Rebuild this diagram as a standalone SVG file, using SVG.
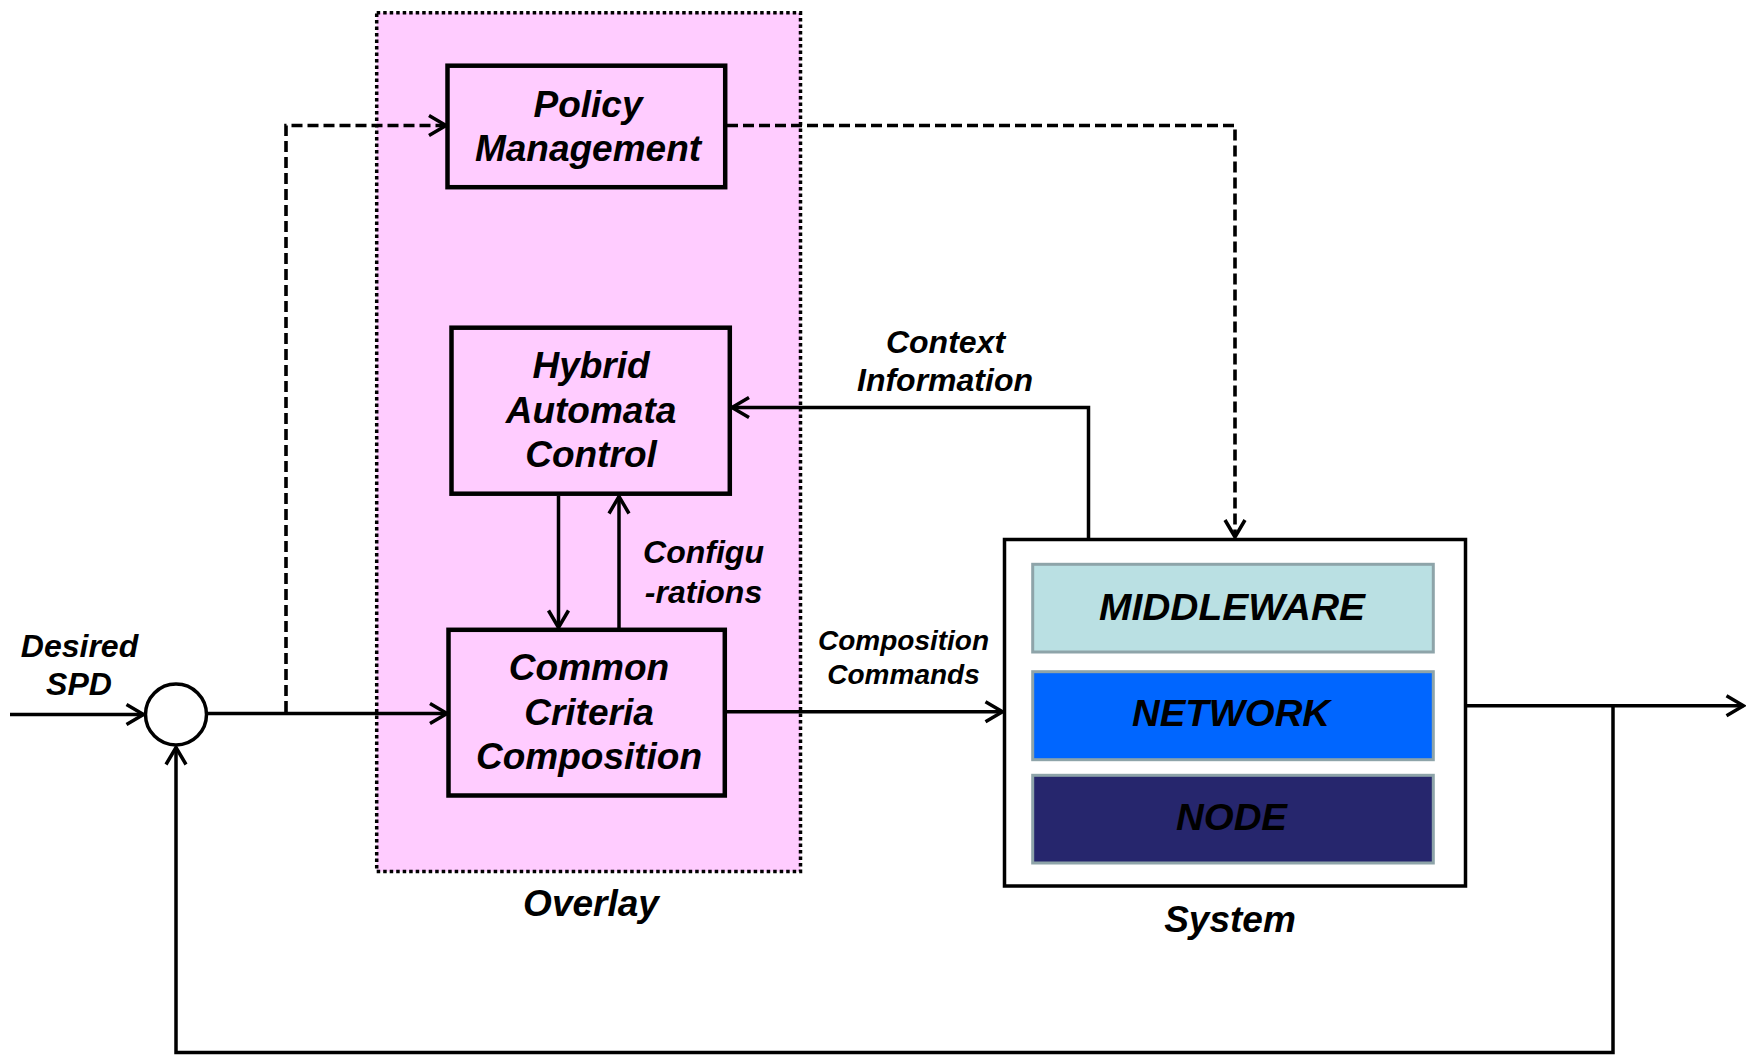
<svg xmlns="http://www.w3.org/2000/svg" width="1746" height="1055" viewBox="0 0 1746 1055">
  <style>
    .lbl { font-family: "Liberation Sans", Arial, sans-serif; font-weight: bold; font-style: italic; fill: #000; text-anchor: middle; }
    .f37 { font-size: 37px; }
    .f32 { font-size: 32px; }
    .f28 { font-size: 28px; }
    .f35 { font-size: 36px; }
    .box { fill: #ffccff; stroke: #000; stroke-width: 4.5; }
    .wire { fill: none; stroke: #000; stroke-width: 3.5; }
    .dash { fill: none; stroke: #000; stroke-width: 3.6; stroke-dasharray: 11 5; }
    .layer { stroke: #8ea4a9; stroke-width: 3; }
  </style>
  <defs>
    <marker id="arrow" markerUnits="userSpaceOnUse" markerWidth="24" markerHeight="26" viewBox="-20 -13 24 26" refX="0" refY="0" orient="auto">
      <path d="M-17,-10 L0,0 L-17,10" fill="none" stroke="#000" stroke-width="3.5" stroke-linejoin="miter"/>
    </marker>
  </defs>

  <rect width="1746" height="1055" fill="#fff"/>

  <!-- overlay container -->
  <g id="overlay">
    <rect x="376.7" y="12.7" width="423.8" height="858.9" fill="#ffccff" stroke="#000" stroke-width="3.5" stroke-dasharray="3.5 3"/>
    <text class="lbl f37" x="591" y="916">Overlay</text>
  </g>

  <!-- connectors -->
  <g id="connectors">
    <path class="wire" d="M10,714.5 H143.5" marker-end="url(#arrow)"/>
    <path class="wire" d="M206.5,713.5 H447" marker-end="url(#arrow)"/>
    <path class="dash" d="M286,712 V125.5 H446" marker-end="url(#arrow)"/>
    <path class="dash" d="M727,125.5 H1235 V537" marker-end="url(#arrow)"/>
    <path class="wire" d="M558.5,496 V627.5" marker-end="url(#arrow)"/>
    <path class="wire" d="M619,628 V496.5" marker-end="url(#arrow)"/>
    <path class="wire" d="M1088.5,539.5 V407.5 H732" marker-end="url(#arrow)"/>
    <path class="wire" d="M727,711.7 H1002.5" marker-end="url(#arrow)"/>
    <path class="wire" d="M1466,705.7 H1743.5" marker-end="url(#arrow)"/>
    <path class="wire" d="M1613,705.7 V1052.5 H176 V747.5" marker-end="url(#arrow)"/>
  </g>

  <!-- summing junction -->
  <g id="junction">
    <circle cx="176" cy="714.5" r="30.5" fill="#fff" stroke="#000" stroke-width="3.5"/>
  </g>

  <g id="policy-management">
    <rect class="box" x="447.5" y="65.7" width="277.7" height="121.5"/>
    <text class="lbl f37" x="588" y="116.7">Policy</text>
    <text class="lbl f37" x="588" y="161">Management</text>
  </g>

  <g id="hybrid-automata-control">
    <rect class="box" x="451.5" y="327.7" width="278.3" height="166"/>
    <text class="lbl f37" x="591" y="377.7">Hybrid</text>
    <text class="lbl f37" x="591" y="422.7">Automata</text>
    <text class="lbl f37" x="591" y="466.7">Control</text>
  </g>

  <g id="common-criteria-composition">
    <rect class="box" x="448.5" y="629.8" width="276.3" height="165.7"/>
    <text class="lbl f37" x="589" y="680">Common</text>
    <text class="lbl f37" x="589" y="724.7">Criteria</text>
    <text class="lbl f37" x="589" y="768.5">Composition</text>
  </g>

  <g id="system">
    <rect x="1004.5" y="539.5" width="461" height="346.5" fill="#fff" stroke="#000" stroke-width="3.5"/>
    <rect class="layer" x="1032.7" y="564.3" width="400.6" height="87.7" fill="#bae0e3"/>
    <rect class="layer" x="1032.7" y="671.7" width="400.6" height="88" fill="#0066ff"/>
    <rect class="layer" x="1032.7" y="775.3" width="400.6" height="87.7" fill="#26266d"/>
    <text class="lbl f35" x="1232" y="619.5" textLength="266" lengthAdjust="spacingAndGlyphs">MIDDLEWARE</text>
    <text class="lbl f35" x="1231" y="726.3" textLength="198" lengthAdjust="spacingAndGlyphs">NETWORK</text>
    <text class="lbl f35" x="1231.5" y="829.7" textLength="111" lengthAdjust="spacingAndGlyphs">NODE</text>
    <text class="lbl f37" x="1230" y="931.5">System</text>
  </g>

  <!-- connector labels -->
  <g id="labels">
    <text class="lbl f32" x="79.5" y="656.7">Desired</text>
    <text class="lbl f32" x="79" y="695">SPD</text>
    <text class="lbl f32" x="703.5" y="563.3">Configu</text>
    <text class="lbl f32" x="703.5" y="602.7">-rations</text>
    <text class="lbl f32" x="945.5" y="353.3">Context</text>
    <text class="lbl f32" x="945" y="390.7">Information</text>
    <text class="lbl f28" x="903.5" y="650">Composition</text>
    <text class="lbl f28" x="903.5" y="684">Commands</text>
  </g>
</svg>
